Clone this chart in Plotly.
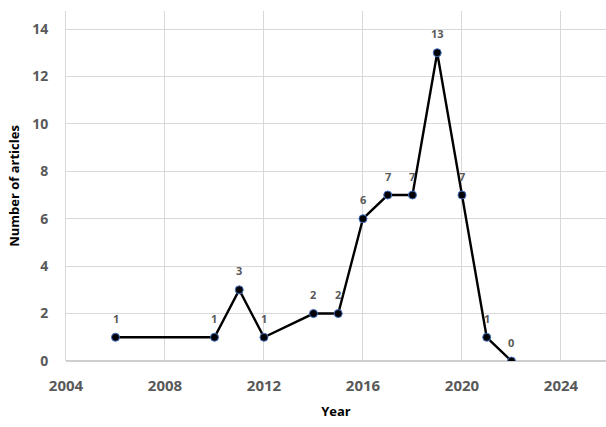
import plotly.graph_objects as go

years = [2006, 2010, 2011, 2012, 2014, 2015, 2016, 2017, 2018, 2019, 2020, 2021, 2022]
articles = [1, 1, 3, 1, 2, 2, 6, 7, 7, 13, 7, 1, 0]

x_ticks = [2004, 2008, 2012, 2016, 2020, 2024]
y_ticks = [0, 2, 4, 6, 8, 10, 12, 14]

font_family = "'Open Sans', sans-serif"
tick_color = "#595959"
grid_color = "#d9d9d9"

fig = go.Figure()
fig.add_trace(go.Scatter(
    x=years, y=articles,
    mode="lines+markers",
    line=dict(color="black", width=2.4),
    marker=dict(color="black", size=8, line=dict(color="#4472c4", width=1)),
    hoverinfo="x+y",
    showlegend=False,
))

# value labels above each point
for xv, yv in zip(years, articles):
    fig.add_annotation(
        x=xv, y=yv, text=f"<b>{yv}</b>", showarrow=False,
        yshift=19, font=dict(family=font_family, size=11, color=tick_color),
    )

fig.update_layout(
    width=606, height=427,
    margin=dict(l=66, r=0, t=11, b=66),
    paper_bgcolor="white", plot_bgcolor="white",
    font=dict(family=font_family),
    xaxis=dict(
        range=[2004, 2025.82], tickvals=x_ticks,
        ticktext=[f"<b>{t}</b>" for t in x_ticks],
        tickfont=dict(size=15, color=tick_color),
        showgrid=True, gridcolor=grid_color, gridwidth=1,
        showline=False, zeroline=False, ticks="", ticklabelstandoff=14,
        title=dict(text="<b>Year</b>", font=dict(size=13, color="black"), standoff=12),
    ),
    yaxis=dict(
        range=[0, 14.76], tickvals=y_ticks,
        ticktext=[f"<b>{t}</b>" for t in y_ticks],
        tickfont=dict(size=14, color=tick_color),
        showgrid=True, gridcolor=grid_color, gridwidth=1,
        showline=True, linecolor=grid_color, linewidth=1,
        zeroline=True, zerolinecolor="#cfcfcf", zerolinewidth=1.5,
        ticks="", ticklabelstandoff=14,
        title=dict(text="<b>Number of articles</b>", font=dict(size=13, color="black"), standoff=9),
    ),
)

fig.write_html("out.html")
